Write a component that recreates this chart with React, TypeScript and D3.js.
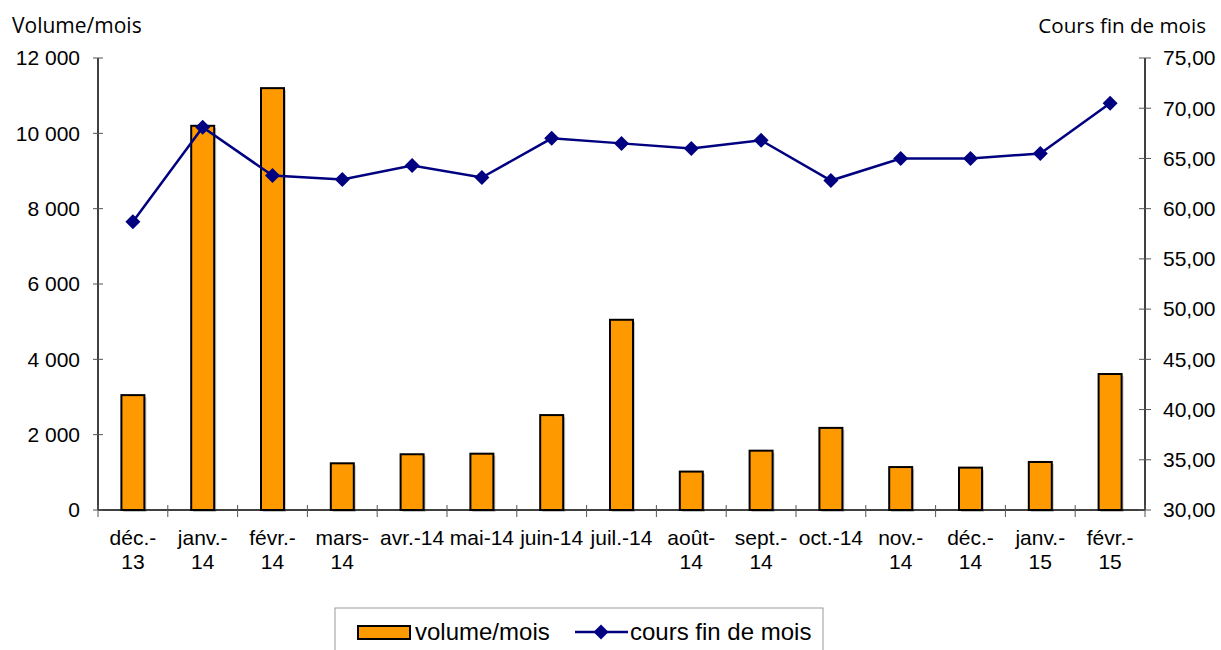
import React from "react";
import * as d3 from "d3";

const categories = ["déc.-13", "janv.-14", "févr.-14", "mars-14", "avr.-14", "mai-14", "juin-14", "juil.-14", "août-14", "sept.-14", "oct.-14", "nov.-14", "déc.-14", "janv.-15", "févr.-15"];
const labelLines = [["déc.-", "13"], ["janv.-", "14"], ["févr.-", "14"], ["mars-", "14"], ["avr.-14"], ["mai-14"], ["juin-14"], ["juil.-14"], ["août-", "14"], ["sept.-", "14"], ["oct.-14"], ["nov.-", "14"], ["déc.-", "14"], ["janv.-", "15"], ["févr.-", "15"]];
const volumes = [3050, 10200, 11200, 1240, 1480, 1495, 2520, 5050, 1020, 1575, 2180, 1140, 1125, 1275, 3610];
const cours = [58.7, 68.1, 63.3, 62.9, 64.3, 63.1, 67.0, 66.5, 66.0, 66.8, 62.8, 65.0, 65.0, 65.5, 70.5];
const leftTicks = [0, 2000, 4000, 6000, 8000, 10000, 12000];
const rightTicks = [30, 35, 40, 45, 50, 55, 60, 65, 70, 75];

const W = 1221, H = 650;
const x0 = 98, x1 = 1145, yTop = 58, yBot = 510;

export default function App() {
  const x = d3.scaleBand<string>().domain(categories).range([x0, x1]).paddingInner(0).paddingOuter(0);
  const yL = d3.scaleLinear().domain([0, 12000]).range([yBot, yTop]);
  const yR = d3.scaleLinear().domain([30, 75]).range([yBot, yTop]);
  const bw = 23;
  const cx = (c: string) => (x(c) as number) + x.bandwidth() / 2;
  const line = d3.line<number>().x((_, i) => cx(categories[i])).y((d) => yR(d));
  const fmtL = (v: number) => d3.format(",")(v).replace(/,/g, " ");
  const fmtR = (v: number) => v.toFixed(2).replace(".", ",");
  const diamond = (px: number, py: number, r: number) => `M${px},${py - r}L${px + r},${py}L${px},${py + r}L${px - r},${py}Z`;
  const font = "'Liberation Sans', Arial, sans-serif";
  const font2 = "'Open Sans', 'Noto Sans', sans-serif";
  return (
    <svg width={W} height={H} style={{ position: "absolute", left: 0, top: 0, background: "#fff" }}>
      <text x={12} y={33} fontFamily={font2} fontSize={21} fill="#000">Volume/mois</text>
      <text x={1206} y={33} fontFamily={font2} fontSize={20.6} fill="#000" textAnchor="end">Cours fin de mois</text>
      {/* bars */}
      {volumes.map((v, i) => (
        <g key={i}>
          <rect x={cx(categories[i]) - bw / 2 + 2} y={yL(v) + 2} width={bw} height={yBot - yL(v)} fill="#c8c8c8" />
          <rect x={cx(categories[i]) - bw / 2} y={yL(v)} width={bw} height={yBot - yL(v)} fill="#FF9900" stroke="#000" strokeWidth={2} />
        </g>
      ))}
      {/* axes */}
      <line x1={x0} x2={x0} y1={yTop} y2={yBot} stroke="#000" strokeWidth={1.5} />
      <line x1={x1} x2={x1} y1={yTop} y2={yBot} stroke="#000" strokeWidth={1.5} />
      <line x1={x0} x2={x1} y1={yBot} y2={yBot} stroke="#000" strokeWidth={1.5} />
      {leftTicks.map((t) => (
        <g key={"l" + t}>
          <line x1={x0 - 5} x2={x0 + 5} y1={yL(t)} y2={yL(t)} stroke="#555" strokeWidth={1} />
          <text x={80} y={yL(t)} dy="0.35em" textAnchor="end" fontFamily={font} fontSize={21}>{fmtL(t)}</text>
        </g>
      ))}
      {rightTicks.map((t) => (
        <g key={"r" + t}>
          <line x1={x1 - 6} x2={x1 + 6} y1={yR(t)} y2={yR(t)} stroke="#555" strokeWidth={1} />
          <text x={1163} y={yR(t)} dy="0.35em" fontFamily={font} fontSize={21}>{fmtR(t)}</text>
        </g>
      ))}
      {categories.map((c, i) => (
        <line key={"xt" + i} x1={x(c) as number} x2={x(c) as number} y1={yBot - 5} y2={yBot + 7} stroke="#555" strokeWidth={1} />
      ))}
      <line x1={x1} x2={x1} y1={yBot - 5} y2={yBot + 7} stroke="#555" strokeWidth={1} />
      {categories.map((c, i) => (
        <text key={"xl" + i} x={cx(c)} y={545} textAnchor="middle" fontFamily={font} fontSize={21}>
          {labelLines[i].map((s, j) => (
            <tspan key={j} x={cx(c)} dy={j === 0 ? 0 : 23.5}>{s}</tspan>
          ))}
        </text>
      ))}
      {/* line */}
      <path d={line(cours) || ""} fill="none" stroke="#000080" strokeWidth={2.5} />
      {cours.map((v, i) => (
        <path key={"m" + i} d={diamond(cx(categories[i]), yR(v), 7.5)} fill="#000080" />
      ))}
      {/* legend */}
      <rect x={335} y={608} width={488} height={60} fill="#fff" stroke="#999" strokeWidth={1} />
      <rect x={358} y={626} width={52} height={13} fill="#FF9900" stroke="#000" strokeWidth={2} />
      <text x={415} y={640} fontFamily={font} fontSize={24}>volume/mois</text>
      <line x1={575} x2={628} y1={632} y2={632} stroke="#000080" strokeWidth={2.5} />
      <path d={diamond(601, 632, 7.5)} fill="#000080" />
      <text x={630} y={640} fontFamily={font} fontSize={24}>cours fin de mois</text>
    </svg>
  );
}
